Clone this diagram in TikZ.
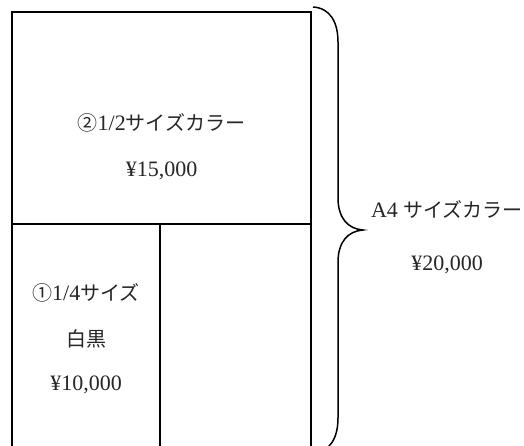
\documentclass[tikz,border=0pt]{standalone}
\usepackage{fontspec}
\setmainfont{Liberation Serif}
\newfontfamily\cjk{Noto Sans CJK JP}
\newcommand\jptext[1]{{\cjk\fontsize{20}{24}\selectfont #1}}
\begin{document}
\begin{tikzpicture}[x=1pt,y=-1pt,
  lbl/.style={anchor=base,inner sep=0pt,text=black!85,font=\fontsize{22}{26}\selectfont},
  frame/.style={draw=black,line width=2pt},
  divider/.style={draw=black,line width=1.3pt},
  bracestyle/.style={draw=black,line width=1.5pt}]
\useasboundingbox[fill=white] (0,0) rectangle (524,446);
% frame
\draw[frame] (12,12) rectangle (311,450);
\draw[divider] (12,224) -- (311,224);
\draw[divider] (160,224) -- (160,450);
% brace
\draw[bracestyle] (313,7) .. controls (330,8) and (338,22) .. (338,42)
  -- (338,198) .. controls (338,218) and (348,229) .. (363,230)
  .. controls (348,231) and (338,242) .. (338,262)
  -- (338,418) .. controls (338,438) and (330,452) .. (313,453);
% labels
\node[lbl] (half) at (161.5,131) {\jptext{②}1/2\jptext{サイズカラー}};
\node[lbl] (halfprice) at (161.5,177) {¥15,000};
\node[lbl] (quarter) at (86,300) {\jptext{①}1/4\jptext{サイズ}};
\node[lbl] (bw) at (86,346) {\jptext{白黒}};
\node[lbl] (quarterprice) at (86,390) {¥10,000};
\node[lbl] (full) at (447,218) {A4 \jptext{サイズカラー}};
\node[lbl] (fullprice) at (447,270) {¥20,000};
\end{tikzpicture}
\end{document}
